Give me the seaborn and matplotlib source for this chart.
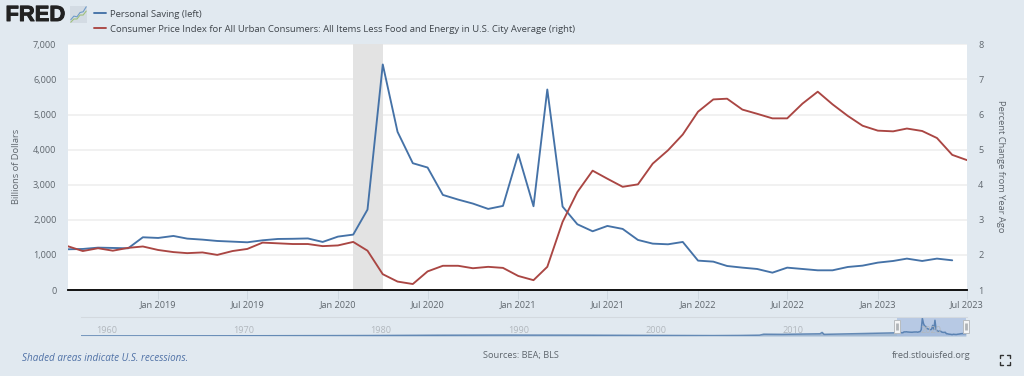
import matplotlib
matplotlib.use('Agg')
import matplotlib.pyplot as plt
import matplotlib.patheffects as pe
from matplotlib.lines import Line2D
from matplotlib.patches import Rectangle
import numpy as np
import pandas as pd
import seaborn as sns

# Monthly values, Jul 2018 onwards
saving = [1160, 1169, 1207, 1198, 1188, 1502,
          1483, 1540, 1464, 1435, 1397, 1378, 1359, 1416, 1454, 1459, 1469, 1369,
          1521, 1578, 2291, 6426, 4506, 3612, 3489, 2709, 2576, 2462, 2310, 2396,
          3869, 2386, 5713, 2377, 1873, 1673, 1825, 1740, 1426, 1321, 1302, 1369,
          837, 808, 684, 637, 599, 494, 637, 599, 561, 561, 656, 694,
          780, 827, 894, 827, 894, 846]
cpi = [2.25, 2.11, 2.19, 2.12, 2.20, 2.24,
       2.14, 2.08, 2.05, 2.07, 2.00, 2.11, 2.17, 2.35, 2.33, 2.31, 2.31, 2.25,
       2.27, 2.37, 2.12, 1.45, 1.24, 1.17, 1.53, 1.69, 1.69, 1.62, 1.66, 1.63,
       1.40, 1.28, 1.66, 2.94, 3.79, 4.40, 4.17, 3.94, 4.01, 4.60, 4.98, 5.43,
       6.08, 6.43, 6.45, 6.14, 6.02, 5.89, 5.89, 6.31, 6.65, 6.29, 5.96, 5.68,
       5.54, 5.52, 5.60, 5.53, 5.33, 4.85, 4.70]
left_ticks = [0, 1000, 2000, 3000, 4000, 5000, 6000, 7000]
right_ticks = [1, 2, 3, 4, 5, 6, 7, 8]
date_ticks = ['2019-01-01', '2019-07-01', '2020-01-01', '2020-07-01',
              '2021-01-01', '2021-07-01', '2022-01-01', '2022-07-01',
              '2023-01-01', '2023-07-01']
date_labels = ['Jan 2019', 'Jul 2019', 'Jan 2020', 'Jul 2020', 'Jan 2021',
               'Jul 2021', 'Jan 2022', 'Jul 2022', 'Jan 2023', 'Jul 2023']

# Long history for the navigator strip (rough readings before 2018)
nav_years = [1959, 1965, 1970, 1975, 1980, 1985, 1990, 1995, 2000, 2005, 2007,
             2008.4, 2008.7, 2010, 2012.8, 2012.95, 2013.1, 2015, 2018.4]
nav_saving = [25, 40, 70, 120, 170, 280, 330, 300, 220, 150, 200,
              300, 650, 600, 800, 1300, 600, 800, 1160]
nav_labels = [1960, 1970, 1980, 1990, 2000, 2010, 2020]

bg = '#e1e9f0'
blue = '#4572a7'
red = '#aa4643'
txt = '#5f666d'
fs = 6.6
W, H = 1024, 376

sns.set_theme(style='white')
plt.rcParams['font.family'] = ['Open Sans', 'DejaVu Sans']


def box(x0, y0, x1, y1):
    # pixel box, y measured from the top of the picture
    return [x0 / W, 1 - y1 / H, (x1 - x0) / W, (y1 - y0) / H]


def label(x, y, s, **kw):
    kw.setdefault('color', txt)
    kw.setdefault('fontsize', fs)
    kw.setdefault('va', 'center')
    return fig.text(x / W, 1 - y / H, s, **kw)


fig = plt.figure(figsize=(W / 100, H / 100), dpi=100, facecolor=bg)

# main chart
dates = pd.date_range('2018-07-01', periods=len(cpi), freq='MS')
ax = fig.add_axes(box(67.5, 44.3, 967, 290))
ax.set_facecolor('white')
ax.grid(axis='y', color='#eeeeee', lw=1.1)
ax.set_axisbelow(True)
ax.axvspan(pd.Timestamp('2020-02-01'), pd.Timestamp('2020-04-01'), color='#e3e3e3', lw=0, zorder=1)
sns.lineplot(x=dates[:len(saving)], y=saving, ax=ax, color=blue, lw=1.35, zorder=3)
ax.set_xlim(pd.Timestamp('2018-07-01'), pd.Timestamp('2023-07-01'))
ax.set_ylim(0, 7000)
ax.set_yticks(left_ticks)
ax.set_yticklabels([f'{v:,}' for v in left_ticks], color=txt, fontsize=fs)
ax.set_xticks(pd.to_datetime(date_ticks))
ax.set_xticklabels(date_labels, color=txt, fontsize=fs)
ax.tick_params(axis='x', length=6.5, width=0.6, color='#cbd5de', pad=0.8, bottom=True)
ax.tick_params(axis='y', length=0, pad=8)
ax.set_xlabel('')
ax.set_ylabel('')

ax2 = ax.twinx()
sns.lineplot(x=dates, y=cpi, ax=ax2, color=red, lw=1.35, zorder=3)
ax2.set_ylim(1, 8)
ax2.set_yticks(right_ticks)
ax2.set_yticklabels(right_ticks, color=txt, fontsize=fs)
ax2.tick_params(axis='y', length=0, pad=8)
ax2.grid(False)
ax2.set_ylabel('')

for a in (ax, ax2):
    for side in ('top', 'left', 'right'):
        a.spines[side].set_visible(False)
    a.spines['bottom'].set_color('#111111')
    a.spines['bottom'].set_linewidth(1.2)

label(16.5, 166, 'Billions of Dollars', rotation=90, ha='center', fontsize=6.75)
label(1000.5, 166.5, 'Percent Change from Year Ago', rotation=270, ha='center', fontsize=6.75)

# navigator strip
nav = fig.add_axes(box(81, 317, 967, 336))
nav.patch.set_alpha(0)
nav_x = nav_years + list(2018.5 + np.arange(len(saving)) / 12)
nav_y = nav_saving + saving
nav.set_xlim(1959, 2023.5)
nav.set_ylim(0, 6900)
nav.fill_between(nav_x, nav_y, color=blue, alpha=0.4, lw=0)
sns.lineplot(x=nav_x, y=nav_y, ax=nav, color=blue, lw=1.1, alpha=0.8)
nav.axvspan(2018.4, 2023.45, color='#a9bfe0', alpha=0.75, lw=0)
nav.set_xticks([])
nav.set_yticks([])
nav.set_xlabel('')
nav.set_ylabel('')
for side in ('left', 'right', 'bottom'):
    nav.spines[side].set_visible(False)
nav.spines['top'].set_color('#d3d9df')
nav.spines['top'].set_linewidth(0.8)
for yr in nav_labels:
    nav.text(yr + 0.85, 0.3, str(yr), transform=nav.get_xaxis_transform(), ha='center',
             va='center', fontsize=fs, color='#b2b8be', zorder=5)
for yr in (2018.4, 2023.45):
    nav.add_patch(Rectangle((yr - 0.23, 0.18), 0.46, 0.66, transform=nav.get_xaxis_transform(),
                            fc='#f4f5f6', ec='#b8bcc0', lw=0.7, zorder=6, clip_on=False))
    nav.plot([yr, yr], [0.33, 0.7], transform=nav.get_xaxis_transform(), color='#b0b4b8',
             lw=2, zorder=7, clip_on=False, solid_capstyle='butt')

# legend, header and footer
fig.add_artist(Line2D([94 / W, 106 / W], [1 - 13.4 / H] * 2, color=blue, lw=1.35))
fig.add_artist(Line2D([94 / W, 106 / W], [1 - 28.3 / H] * 2, color=red, lw=1.35))
label(110.5, 14.6, 'Personal Saving (left)', fontsize=6.8, color='#3f454b')
label(110.5, 29.6, 'Consumer Price Index for All Urban Consumers: All Items Less Food and Energy in U.S. City Average (right)',
      fontsize=6.8, color='#3f454b')

logo = label(5.5, 15.5, 'FRED', fontsize=15.8, fontweight='bold', color='#222222', family='Liberation Sans')
logo.set_path_effects([pe.withStroke(linewidth=0.7, foreground='#222222')])
icon = fig.add_axes(box(70, 6, 87, 23))
icon.set_facecolor('#d3dbe3')
icon.set_xticks([])
icon.set_yticks([])
for side in icon.spines.values():
    side.set_visible(False)
icon.plot([0, 1, 2, 3, 4, 5], [1, 2, 1.8, 3, 3.2, 4.6], color='#6f9bc8', lw=0.8)
icon.plot([0, 1, 2, 3, 4, 5], [0.3, 1.2, 1.2, 2.3, 2.3, 3.4], color='#9fc07c', lw=0.8)

label(22, 358.9, 'Shaded areas indicate U.S. recessions.', style='italic', color='#4f71a6', fontsize=7.15)
label(521, 355.2, 'Sources: BEA; BLS', ha='center', fontsize=6.7)
label(971, 355.2, 'fred.stlouisfed.org', ha='right', fontsize=6.7)

# fullscreen icon
for sx, sy in [(-1, -1), (1, -1), (-1, 1), (1, 1)]:
    cx, cy = 1005 + sx * 5, 359.7 + sy * 5
    fig.add_artist(Line2D([cx / W, cx / W, (cx - sx * 3) / W],
                          [1 - (cy - sy * 3) / H, 1 - cy / H, 1 - cy / H],
                          color='#333333', lw=1.0))

fig.savefig('out.png', dpi=100, facecolor=bg)
